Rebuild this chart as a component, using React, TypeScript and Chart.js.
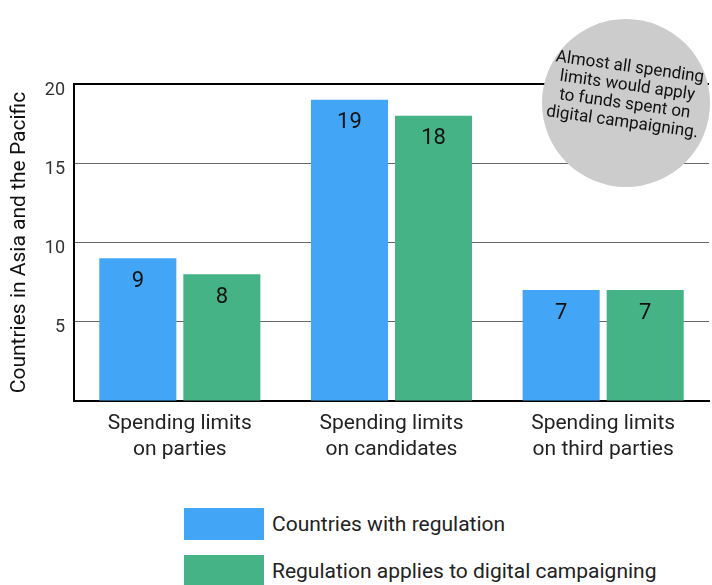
import React, { useEffect, useRef } from "react";
import { Chart, registerables } from "chart.js";

Chart.register(...registerables);

const categories: string[][] = [
  ["Spending limits", "on parties"],
  ["Spending limits", "on candidates"],
  ["Spending limits", "on third parties"],
];
const seriesNames = ["Countries with regulation", "Regulation applies to digital campaigning"];
const withRegulation = [9, 19, 7];
const digitalCampaigning = [8, 18, 7];
const seriesColors = ["#42a5f5", "#45b386"];
const yTicks = [5, 10, 15, 20];
const yTitle = "Countries in Asia and the Pacific";
const noteLines = ["Almost all spending", "limits would apply", "to funds spent on", "digital campaigning."];

const FONT = "Roboto, 'Noto Sans', sans-serif";

export default function App() {
  const ref = useRef<HTMLCanvasElement | null>(null);

  useEffect(() => {
    if (!ref.current) return;
    const valueLabels = {
      id: "valueLabels",
      afterDatasetsDraw(chart: any) {
        const ctx = chart.ctx;
        ctx.save();
        ctx.font = `22px ${FONT}`;
        ctx.fillStyle = "#111";
        ctx.textAlign = "center";
        ctx.textBaseline = "middle";
        chart.data.datasets.forEach((ds: any, i: number) => {
          const meta = chart.getDatasetMeta(i);
          meta.data.forEach((bar: any, j: number) => {
            ctx.fillText(String(ds.data[j]), bar.x, bar.y + 23);
          });
        });
        ctx.restore();
      },
    };
    const note = {
      id: "note",
      afterDraw(chart: any) {
        const ctx = chart.ctx;
        ctx.save();
        ctx.beginPath();
        ctx.arc(626, 103, 84, 0, Math.PI * 2);
        ctx.fillStyle = "#cccccc";
        ctx.fill();
        ctx.translate(626, 95);
        ctx.rotate((8 * Math.PI) / 180);
        ctx.font = `17px ${FONT}`;
        ctx.fillStyle = "#111";
        ctx.textAlign = "center";
        ctx.textBaseline = "middle";
        const lh = 18.5;
        noteLines.forEach((l, i) => {
          ctx.fillText(l, 0, (i - (noteLines.length - 1) / 2) * lh);
        });
        ctx.restore();
      },
    };
    const chart = new Chart(ref.current, {
      type: "bar",
      data: {
        labels: categories,
        datasets: [
          { label: seriesNames[0], data: withRegulation, backgroundColor: seriesColors[0] },
          { label: seriesNames[1], data: digitalCampaigning, backgroundColor: seriesColors[1] },
        ],
      },
      options: {
        responsive: false,
        animation: false,
        layout: { padding: { left: 0, top: 84, right: 3, bottom: 0 } },
        datasets: { bar: { categoryPercentage: 0.794, barPercentage: 0.917 } },
        plugins: { legend: { display: false }, tooltip: { enabled: false } },
        scales: {
          x: {
            grid: { display: false, drawTicks: false },
            border: { display: true, color: "#000", width: 2 },
            ticks: { color: "#222", font: { family: FONT, size: 21, lineHeight: 1.24 }, padding: 10, maxRotation: 0 },
            afterFit: (s: any) => { s.height = 69; },
          },
          y: {
            min: 0,
            max: 20,
            afterBuildTicks: (s: any) => { s.ticks = [0, ...yTicks].map((v) => ({ value: v })); },
            grid: {
              drawTicks: false,
              color: (c: any) => (c.tick && c.tick.value === 20 ? "#000" : "#666"),
              lineWidth: (c: any) => (c.tick && c.tick.value === 20 ? 2 : 1),
            },
            border: { display: true, color: "#000", width: 2 },
            ticks: {
              color: "#333",
              font: { family: FONT, size: 18, lineHeight: 0.67 },
              padding: 9,
              callback: (v: any) => (v === 0 ? "" : ["", String(v)]),
            },
            title: {
              display: true,
              text: yTitle,
              color: "#111",
              font: { family: FONT, size: 21 },
              padding: { top: 7, bottom: 0 },
            },
            afterFit: (s: any) => { s.width = 74; },
          },
        },
      },
      plugins: [valueLabels, note],
    });
    return () => chart.destroy();
  }, []);

  return (
    <div style={{ position: "absolute", left: 0, top: 0, width: 712, height: 585, overflow: "hidden", background: "#fff" }}>
      <canvas ref={ref} width={712} height={470} style={{ display: "block", width: 712, height: 470 }} />
      {seriesNames.map((name, i) => (
        <div
          key={name}
          style={{ position: "absolute", left: 184, top: 508 + i * 47, display: "flex", alignItems: "center", fontFamily: FONT, fontSize: 21, color: "#222", whiteSpace: "nowrap" }}
        >
          <div style={{ width: 80, height: 32, background: seriesColors[i], marginRight: 8 }} />
          <span>{name}</span>
        </div>
      ))}
    </div>
  );
}
